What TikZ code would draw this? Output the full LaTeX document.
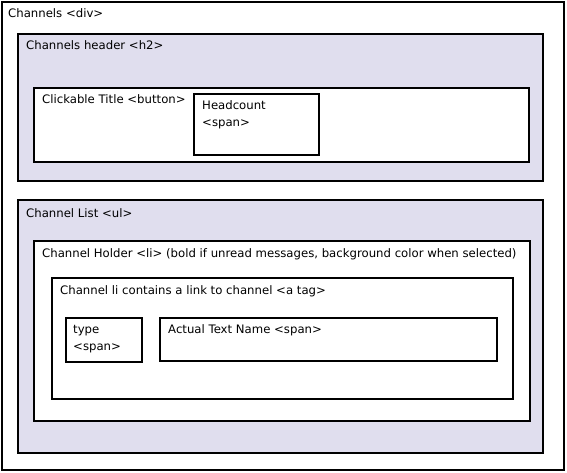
\documentclass[tikz,border=0pt]{standalone}
\usepackage{fontspec}
\setmainfont{DejaVu Sans}
\definecolor{lav}{RGB}{224,222,238}
\begin{document}
\begin{tikzpicture}[x=1pt,y=-1pt,
  box/.style={draw=black,line width=1.7pt,fill=white,anchor=north west,inner sep=0pt,outer sep=0pt},
  lavbox/.style={box,fill=lav},
  lbl/.style={anchor=base west,inner sep=0pt,font=\fontsize{11.7}{14}\selectfont,align=left}]
\useasboundingbox (0,0) rectangle (567,473);
\newcommand{\bx}[6]{\node[#1,minimum width=#4-#2,minimum height=#5-#3] (#6) at (#2,#3) {};}
\bx{box}{2}{2}{564}{470}{div}
\bx{lavbox}{18}{34}{543}{181}{hdr}
\bx{box}{34}{88}{529}{162}{btn}
\bx{box}{194}{94}{319}{155}{hc}
\bx{lavbox}{18}{200}{543}{453}{ul}
\bx{box}{34}{241}{530}{421}{li}
\bx{box}{52}{278}{513}{399}{atag}
\bx{box}{66}{318}{142}{362}{type}
\bx{box}{160}{318}{497}{361}{name}
\node[lbl] (tdiv) at (8,18) {Channels <div>};
\node[lbl] (thdr) at (26,50) {Channels header <h2>};
\node[lbl] (tbtn) at (42,104) {Clickable Title <button>};
\node[lbl] (thc) at (202,110) {Headcount};
\node[lbl] (thc2) at (202,127) {<span>};
\node[lbl] (tul) at (26,217) {Channel List <ul>};
\node[lbl] (tli) at (42,257) {Channel Holder <li> (bold if unread messages, background color when selected)};
\node[lbl] (ta) at (60,294) {Channel li contains a link to channel <a tag>};
\node[lbl] (tt) at (73,333) {type};
\node[lbl] (tt2) at (73,350) {<span>};
\node[lbl] (tn) at (168,333) {Actual Text Name <span>};
\end{tikzpicture}
\end{document}
